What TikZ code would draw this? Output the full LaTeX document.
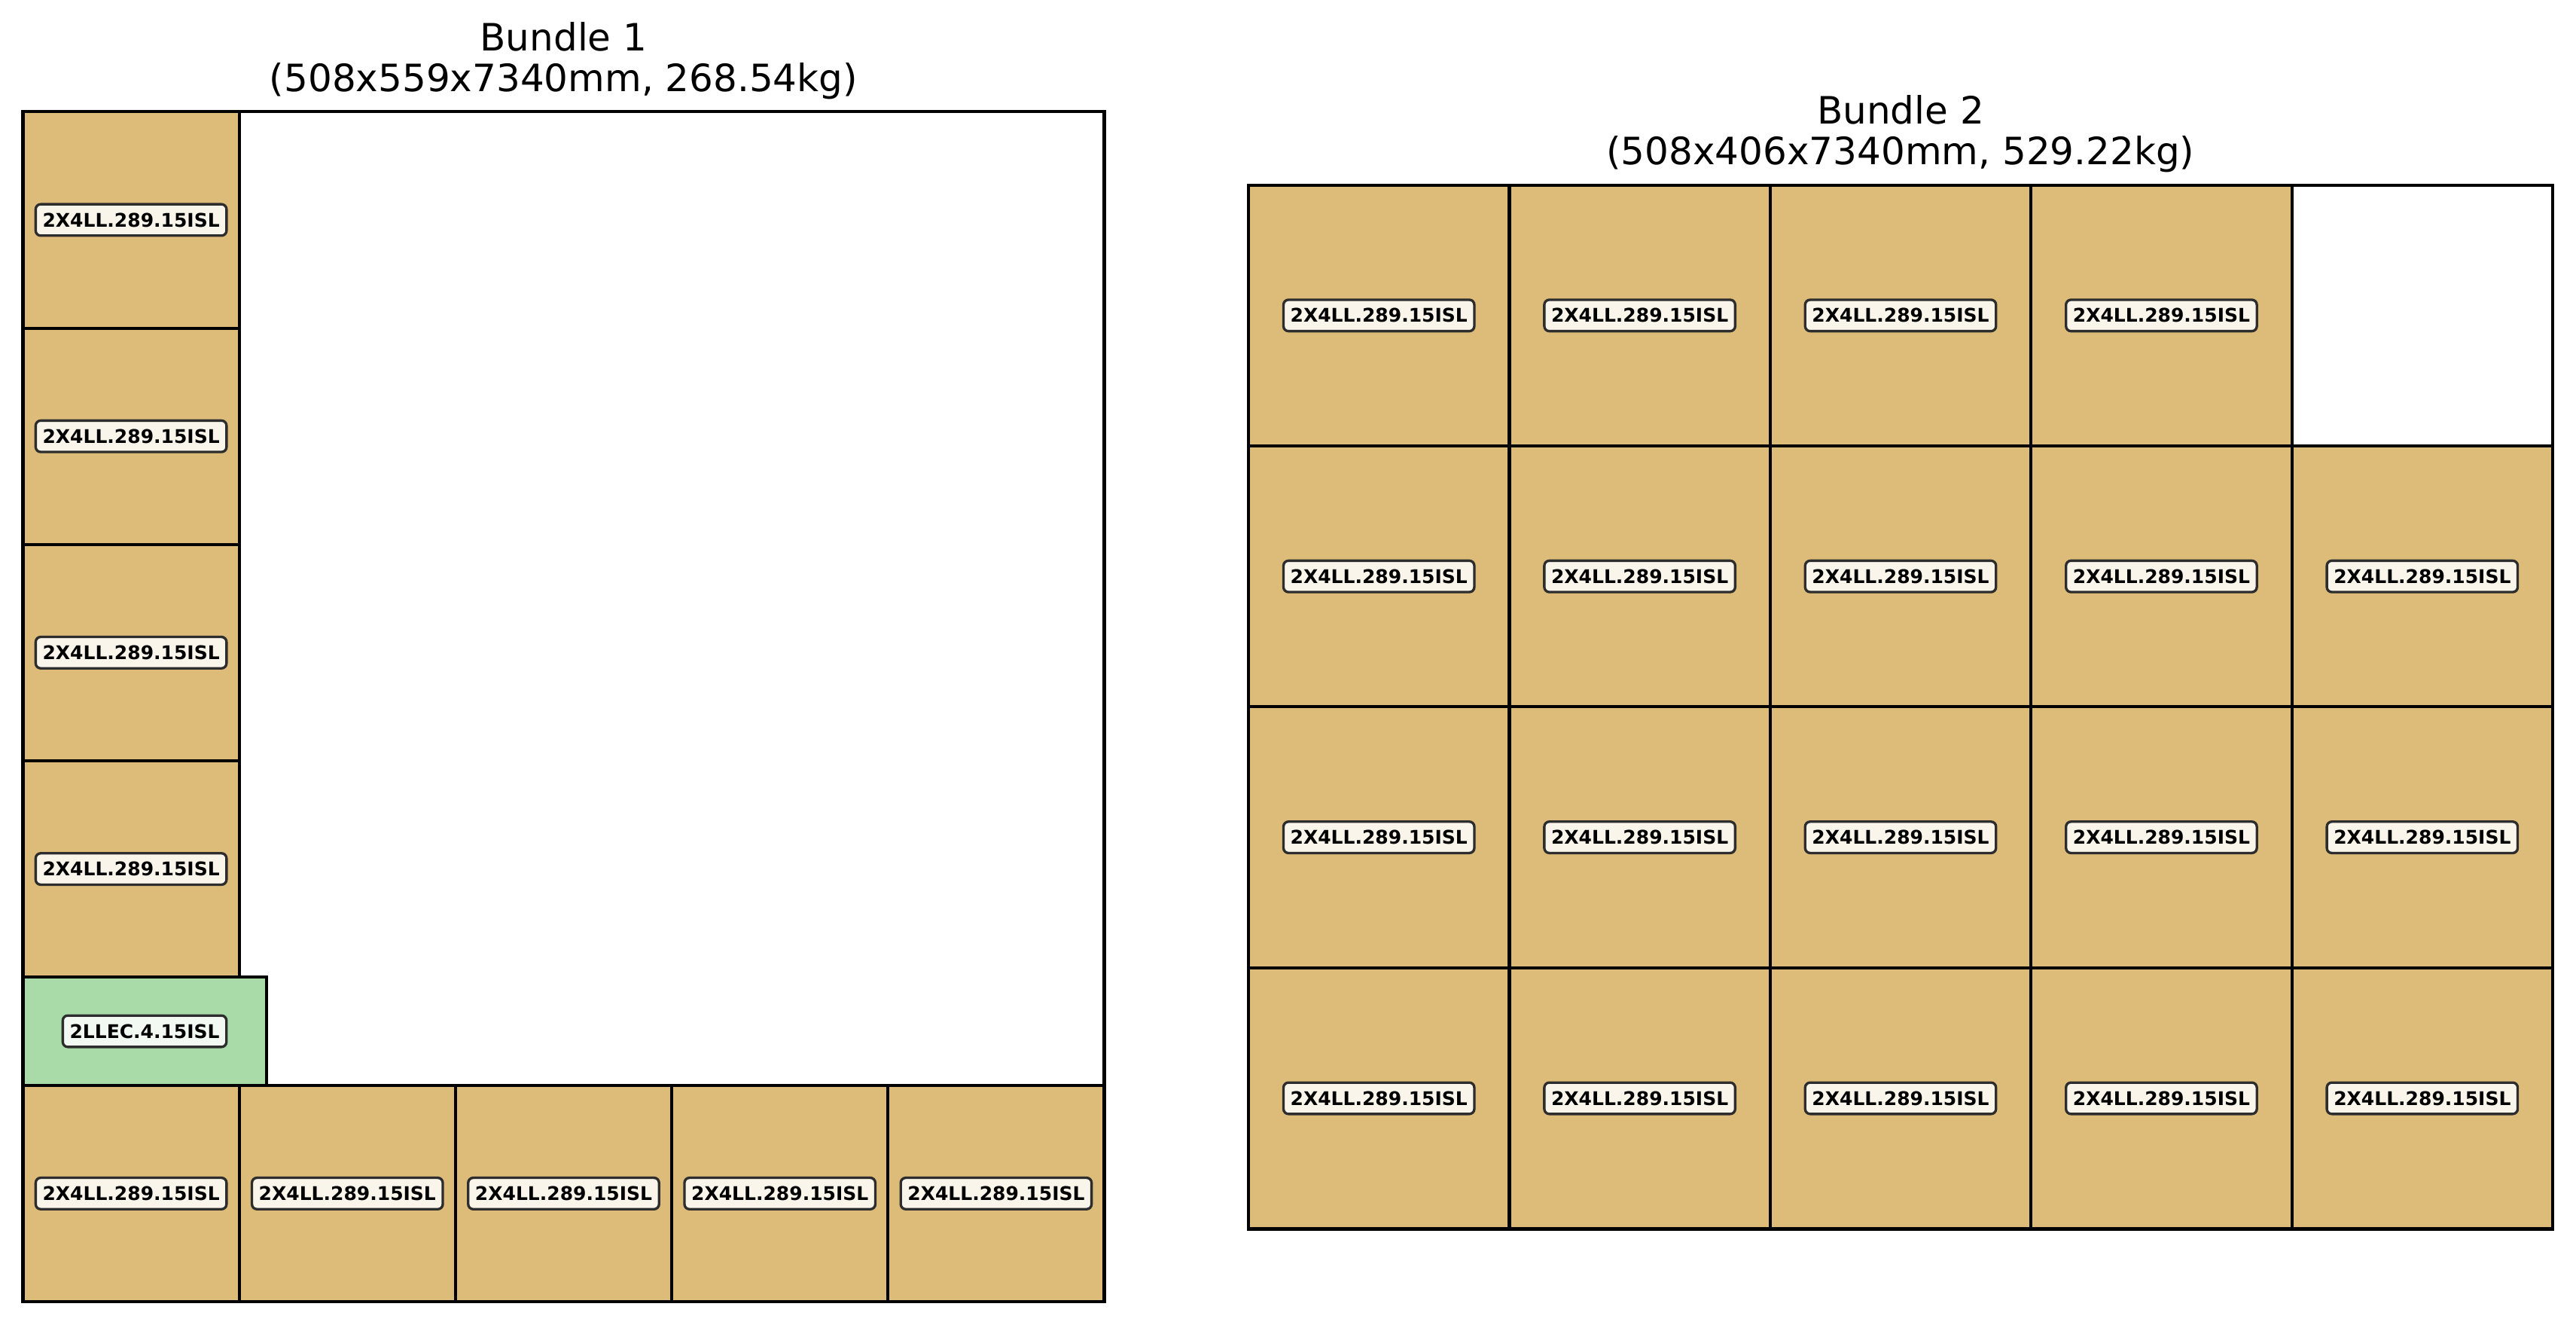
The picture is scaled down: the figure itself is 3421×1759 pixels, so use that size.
\documentclass[tikz,border=0pt]{standalone}
\usepackage{fontspec}
\setmainfont{DejaVu Sans}
\definecolor{woodtan}{RGB}{221,188,122}
\definecolor{leafgreen}{RGB}{168,219,168}
\definecolor{tagedge}{RGB}{45,45,45}
\begin{document}
\begin{tikzpicture}[x=0.24pt,y=-0.24pt,
  cellA/.style={fill=woodtan,draw=black,line width=1pt},
  cellB/.style={fill=leafgreen,draw=black,line width=1pt},
  outerbox/.style={fill=white,draw=black,line width=1pt},
  tag/.style={font=\bfseries\fontsize{6}{7}\selectfont, fill=white, fill opacity=0.85, text opacity=1, draw=tagedge, line width=0.8pt, rounded corners=1.6pt, inner xsep=2.2pt, inner ysep=0pt, minimum height=10pt},
  ttl/.style={font=\fontsize{12}{14}\selectfont, anchor=base}]
\useasboundingbox (0,0) rectangle (3421,1759);
% Bundle 1
\draw[outerbox] (30.5,148.4) rectangle (1466.5,1728);
\foreach \i/\y in {1/148.4,2/435.6,3/722.8,4/1010}{
  \draw[cellA] (30.5,\y) rectangle ++(287.2,287.2);
  \node[tag] (b1col\i) at (174.1,{\y+143.6}) {2X4LL.289.15ISL};
}
\draw[cellB] (30.5,1297.2) rectangle (353.6,1440.8);
\node[tag] (b1green) at (192.05,1369) {2LLEC.4.15ISL};
\foreach \i/\x in {1/30.5,2/317.7,3/604.9,4/892.1,5/1179.3}{
  \draw[cellA] (\x,1440.8) rectangle ++(287.2,287.2);
  \node[tag] (b1row\i) at ({\x+143.6},1584.4) {2X4LL.289.15ISL};
}
\node[ttl] (t1a) at (748.5,68) {Bundle 1};
\node[ttl] (t1b) at (748.5,122) {(508x559x7340mm, 268.54kg)};
% Bundle 2
\draw[outerbox] (1658,245.6) rectangle (3390,1632);
\foreach \r in {0,...,3}{
  \foreach \c in {0,...,4}{
    \ifnum\numexpr\r*10+\c\relax=4\relax\else
      \draw[cellA] ({1658+\c*346.4},{245.6+\r*346.4}) rectangle ++(346.4,346.4);
      \node[tag] (b2r\r c\c) at ({1658+\c*346.4+173.2},{245.6+\r*346.4+173.2}) {2X4LL.289.15ISL};
    \fi
  }
}
\node[ttl] (t2a) at (2524,164.4) {Bundle 2};
\node[ttl] (t2b) at (2524,218.4) {(508x406x7340mm, 529.22kg)};
\end{tikzpicture}
\end{document}
